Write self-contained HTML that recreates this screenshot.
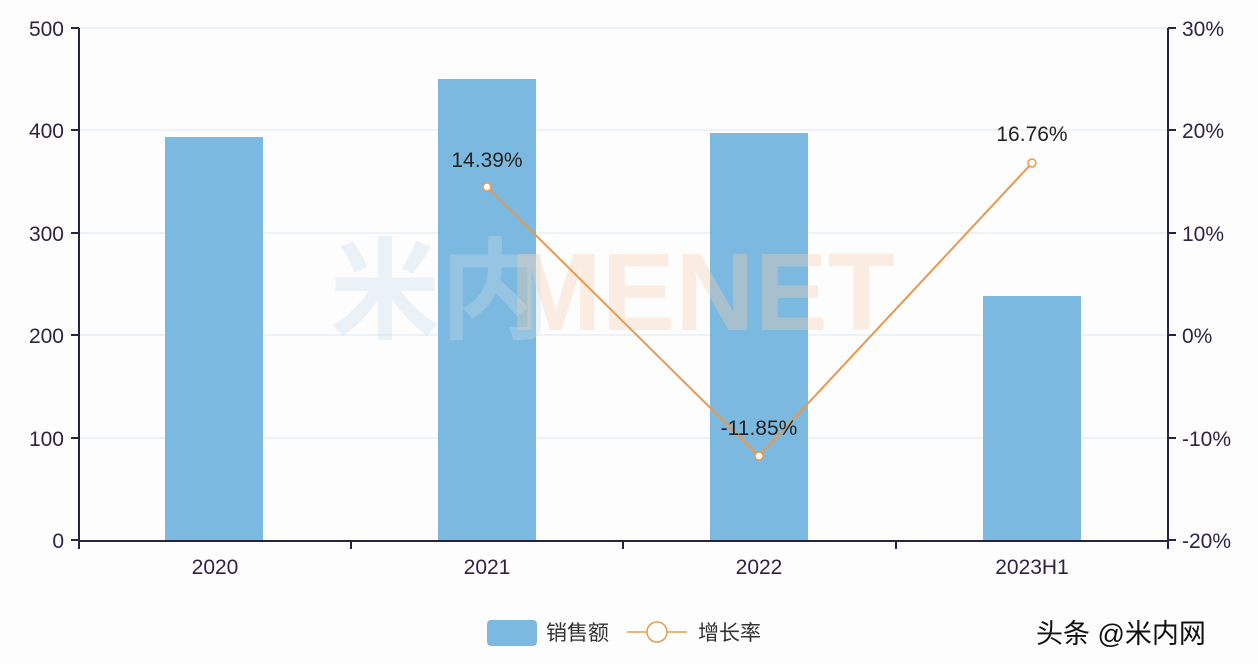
<!DOCTYPE html>
<html><head><meta charset="utf-8">
<style>
html,body{margin:0;padding:0;background:#fff;}
svg{display:block;font-family:"Liberation Sans","Noto Sans CJK SC",sans-serif;}
</style></head>
<body>
<svg width="1258" height="664" viewBox="0 0 1258 664" xmlns="http://www.w3.org/2000/svg">
<rect width="1258" height="664" fill="#fdfdfd"/>
<g stroke="#e8eef3" stroke-width="1.5">
<line x1="80" y1="28" x2="1168" y2="28"/>
<line x1="80" y1="130" x2="1168" y2="130"/>
<line x1="80" y1="233" x2="1168" y2="233"/>
<line x1="80" y1="335" x2="1168" y2="335"/>
<line x1="80" y1="438" x2="1168" y2="438"/>
</g>
<g fill="#7cb9e0">
<rect x="165" y="137" width="98" height="403"/>
<rect x="438" y="79" width="98" height="461"/>
<rect x="710" y="133" width="98" height="407"/>
<rect x="983" y="296" width="98" height="244"/>
</g>
<text x="330" y="330" font-size="110" font-weight="bold" fill="#c8dcec" opacity="0.35">米内</text>
<text x="510" y="330" font-size="110" font-weight="bold" fill="#f8cfae" opacity="0.35">MENET</text>
<g stroke="#2a2240" stroke-width="2" fill="none">
<line x1="79" y1="28" x2="79" y2="541"/>
<line x1="1168" y1="28" x2="1168" y2="541"/>
<line x1="79" y1="541" x2="1168" y2="541"/>
<line x1="71" y1="28" x2="79" y2="28"/><line x1="71" y1="130" x2="79" y2="130"/><line x1="71" y1="233" x2="79" y2="233"/><line x1="71" y1="335" x2="79" y2="335"/><line x1="71" y1="438" x2="79" y2="438"/><line x1="71" y1="540" x2="79" y2="540"/>
<line x1="1168" y1="28" x2="1176" y2="28"/><line x1="1168" y1="130" x2="1176" y2="130"/><line x1="1168" y1="233" x2="1176" y2="233"/><line x1="1168" y1="335" x2="1176" y2="335"/><line x1="1168" y1="438" x2="1176" y2="438"/><line x1="1168" y1="540" x2="1176" y2="540"/>
<line x1="79" y1="541" x2="79" y2="549"/><line x1="351" y1="541" x2="351" y2="549"/><line x1="623" y1="541" x2="623" y2="549"/><line x1="896" y1="541" x2="896" y2="549"/><line x1="1168" y1="541" x2="1168" y2="549"/>
</g>
<g font-size="21" fill="#2d2445">
<g text-anchor="end">
<text x="64" y="36">500</text><text x="64" y="138">400</text><text x="64" y="241">300</text><text x="64" y="343">200</text><text x="64" y="446">100</text><text x="64" y="548">0</text>
</g>
<g text-anchor="start">
<text x="1182" y="36">30%</text><text x="1182" y="138">20%</text><text x="1182" y="241">10%</text><text x="1182" y="343">0%</text><text x="1182" y="446">-10%</text><text x="1182" y="548">-20%</text>
</g>
<g text-anchor="middle">
<text x="215" y="574">2020</text><text x="487" y="574">2021</text><text x="759" y="574">2022</text><text x="1032" y="574">2023H1</text>
</g>
</g>
<polyline points="487,187 759,456 1032,163" fill="none" stroke="#e8994f" stroke-width="2"/>
<g fill="#fff" stroke="#e8994f" stroke-width="1.5">
<circle cx="487" cy="187" r="4"/><circle cx="759" cy="456" r="4"/><circle cx="1032" cy="163" r="4"/>
</g>
<g font-size="21" fill="#222" text-anchor="middle">
<text x="487" y="167">14.39%</text>
<text x="759" y="435">-11.85%</text>
<text x="1032" y="141">16.76%</text>
</g>
<rect x="487" y="620" width="50" height="26" rx="4" fill="#7cb9e0"/>
<text x="546" y="640" font-size="21" fill="#333">销售额</text>
<line x1="627" y1="632" x2="687" y2="632" stroke="#e8994f" stroke-width="1.5"/>
<circle cx="657" cy="632" r="10" fill="#fff" stroke="#e8994f" stroke-width="1.5"/>
<text x="698" y="640" font-size="21" fill="#333">增长率</text>
<text x="1036" y="643" font-size="27" fill="#111">头条 @米内网</text>
</svg>
</body></html>
